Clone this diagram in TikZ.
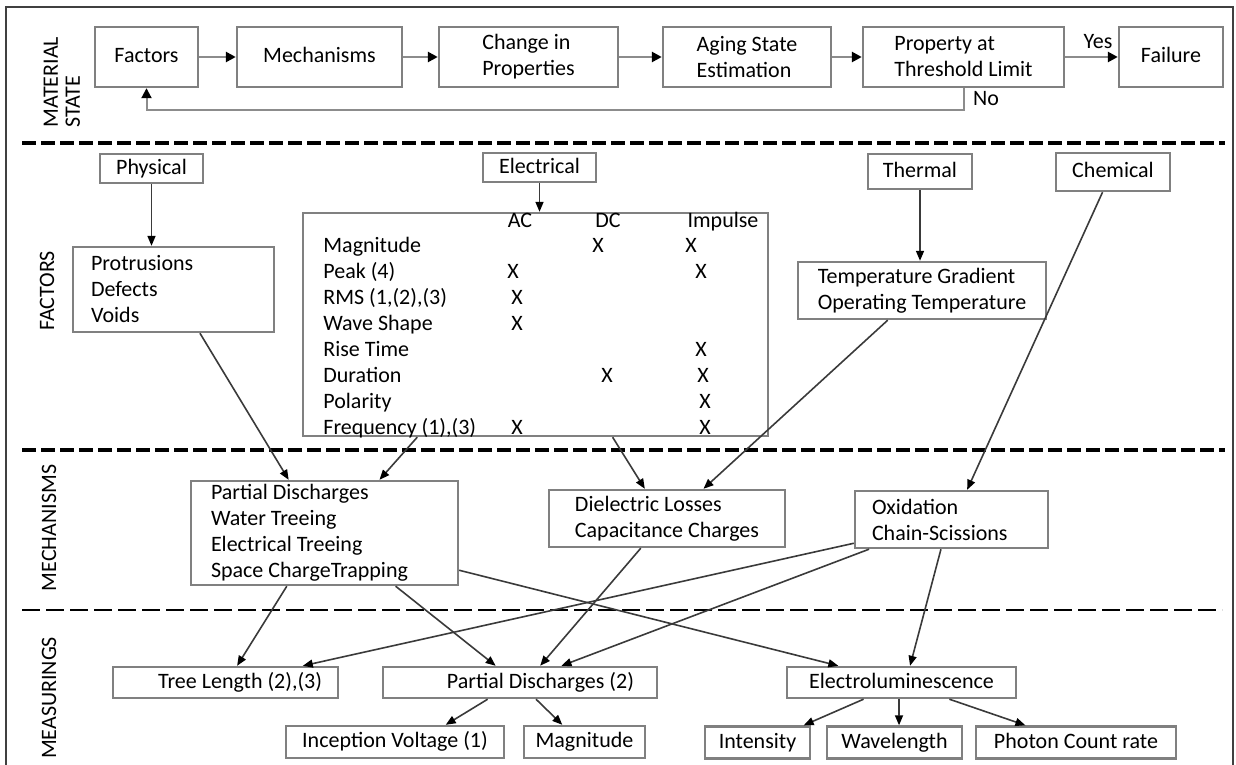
\documentclass[tikz,border=0pt]{standalone}
\usepackage{fontspec}
\setmainfont{Carlito}
\usepackage{tikz}
\usepackage{xcolor}
\usetikzlibrary{arrows.meta,calc,positioning}
\definecolor{BoxGray}{HTML}{808080}
\definecolor{FlowGray}{HTML}{8C8C8C}
\definecolor{LineGray}{HTML}{3A3A3A}
\tikzset{
  cbbox/.style={draw=BoxGray, line width=1.2pt, fill=white, align=flush left, inner sep=1pt, font=\fontsize{11}{13}\selectfont},
  cbone/.style={cbbox, text height=7.5pt, text depth=2pt},
  cbtext/.style={inner sep=0pt, text height=7.5pt, text depth=2pt, font=\fontsize{11}{13}\selectfont},
  cbsec/.style={rotate=90, inner sep=0pt, align=left, font=\fontsize{11}{11}\selectfont},
  cbflow/.style={-{Triangle[length=5pt,width=5pt,color=black]}, line width=1.4pt, draw=FlowGray},
  cbarrow/.style={-{Triangle[length=5pt,width=4pt,color=black]}, line width=0.8pt, draw=LineGray},
  cbdash/.style={line width=2pt, dash pattern=on 7pt off 2.5pt},
  cbthin/.style={line width=1.3pt, dash pattern=on 9pt off 3pt}
}

\begin{document}
\begin{tikzpicture}[x=0.5pt,y=-0.5pt]
  \useasboundingbox (0,0) rectangle (1236,765);
  \draw[line width=1pt, black!75] (6,765) -- (6,7) -- (1233,7) -- (1233,765);

  % material state
  \node[cbone, minimum width=51.5pt, minimum height=30pt] (facbox) at (146.5,57) {Factors};
  \node[cbone, minimum width=82.5pt, minimum height=30pt] (mechbox) at (319.5,57) {Mechanisms};
  \node[cbbox, minimum width=89.5pt, minimum height=30pt] (chgbox) at (528.5,57) {Change in\\Properties};
  \node[cbbox, minimum width=84pt, minimum height=30pt] (agebox) at (747,57) {Aging State\\Estimation};
  \node[cbbox, minimum width=100.5pt, minimum height=30pt] (probox) at (963.5,57) {Property at\\Threshold Limit};
  \node[cbone, minimum width=52pt, minimum height=30pt] (failbox) at (1171,57) {Failure};
  \foreach \a/\b in {facbox/mechbox,mechbox/chgbox,chgbox/agebox,agebox/probox,probox/failbox} {
    \draw[cbflow] (\a) -- (\b);
  }
  \draw[cbflow, line width=1pt] (probox.south) -- ++(0,22) -| (facbox.south);
  \node[cbtext] (yeslbl) at (1098,43) {Yes};
  \node[cbtext] (nolbl) at (986,100) {No};

  % section labels and separators
  \node[cbsec, anchor=west] (secmat) at (62,128) {MATERIAL\\STATE};
  \node[cbsec] (secfac) at (47,291) {FACTORS};
  \node[cbsec] (secmech) at (49,528) {MECHANISMS};
  \node[cbsec] (secmeas) at (49,698) {MEASURINGS};
  \draw[cbdash] (22,143) -- (1225,143);
  \draw[cbdash] (22,450) -- (1225,450);
  \draw[cbthin] (22,610) -- (1222,610);

  % factors
  \node[cbone, minimum width=51.5pt, minimum height=14.5pt] (physbox) at (151.5,168.5) {Physical};
  \node[cbone, minimum width=56.5pt, minimum height=14.5pt] (elecbox) at (539.5,167.5) {Electrical};
  \node[cbone, minimum width=52pt, minimum height=17.5pt] (thermbox) at (920,171.5) {Thermal};
  \node[cbone, minimum width=57pt, minimum height=19pt] (chembox) at (1113,172) {Chemical};
  \node[cbbox, text width=82.5pt, inner xsep=9pt, minimum height=42.5pt] (protbox) at (173.5,289.5) {Protrusions\\Defects\\Voids};
  \node[cbbox, minimum width=232.5pt, minimum height=111.5pt] (elecfac) at (535.5,324.5) {};
  \foreach \hd/\hx in {AC/520,DC/608,Impulse/723} {
    \node[cbtext] (hd\hd) at (\hx,222) {\hd};
  }
  \foreach \rl [count=\i] in {Magnitude,Peak (4),{RMS (1,(2),(3)},Wave Shape,Rise Time,Duration,Polarity,{Frequency (1),(3)}} {
    \node[cbtext, anchor=west] (row\i) at (323,{221+26*\i}) {\rl};
  }
  \foreach \mx/\mr in {598/1,691/1,513/2,701/2,517/3,517/4,701/5,607/6,703/6,705/7,517/8,705/8} {
    \node[cbtext] (mk\mr\mx) at (\mx,{221+26*\mr}) {X};
  }
  \node[cbbox, minimum width=124pt, minimum height=28.5pt] (tempbox) at (922,290.5) {Temperature Gradient\\Operating Temperature};
  \draw[cbarrow] (physbox.south) -- (physbox.south |- protbox.north);
  \draw[cbarrow] (elecbox.south) -- (elecbox.south |- elecfac.north);
  \draw[cbarrow] (thermbox.south) -- (thermbox.south |- tempbox.north);

  % mechanisms
  \node[cbbox, text width=113.5pt, inner xsep=10pt, minimum height=52pt] (m1box) at (324.5,533) {Partial Discharges\\Water Treeing\\Electrical Treeing\\Space ChargeTrapping};
  \node[cbbox, minimum width=118pt, minimum height=28.5pt] (dielbox) at (667,518.5) {Dielectric Losses\\Capacitance Charges};
  \node[cbbox, text width=79.5pt, inner xsep=8.5pt, minimum height=28.5pt] (oxbox) at (951.5,519.5) {Oxidation\\Chain-Scissions};

  % measurings
  \node[cbone, align=flush right, text width=96.5pt, inner xsep=8pt, minimum height=15.5pt] (treebox) at (225.5,682.5) {Tree Length (2),(3)};
  \node[cbone, align=flush right, text width=114pt, inner xsep=11.5pt, minimum height=15.5pt] (pdbox) at (520,682.5) {Partial Discharges (2)};
  \node[cbone, minimum width=114.5pt, minimum height=15.5pt] (elbox) at (901.5,682.5) {Electroluminescence};
  \node[cbone, minimum width=109pt, minimum height=16pt] (incbox) at (395,742) {Inception Voltage (1)};
  \node[cbone, minimum width=60.5pt, minimum height=16pt] (magbox) at (584.5,742) {Magnitude};
  \node[cbone, minimum width=52.5pt, minimum height=16pt] (intbox) at (757.5,742.5) {Intensity};
  \node[cbone, minimum width=67.5pt, minimum height=16pt] (wavbox) at (894.5,742.5) {Wavelength};
  \node[cbone, minimum width=100pt, minimum height=16pt] (phobox) at (1076,742.5) {Photon Count rate};

  % links between levels
  \foreach \a/\fa/\b/\fb in {protbox/0.63/m1box/0.367,elecfac/0.247/m1box/0.704,elecfac/0.665/dielbox/0.407,
      tempbox/0.363/dielbox/0.653,chembox/0.41/oxbox/0.58,m1box/0.36/treebox/0.551,m1box/0.764/pdbox/0.412,
      dielbox/0.39/pdbox/0.573,oxbox/0.078/pdbox/0.65,oxbox/0.446/elbox/0.537,pdbox/0.383/incbox/0.73,
      pdbox/0.558/magbox/0.32,elbox/0.336/intbox/0.93,elbox/0.489/wavbox/0.533,elbox/0.707/phobox/0.25} {
    \draw[cbarrow] ($(\a.south west)!\fa!(\a.south east)$) -- ($(\b.north west)!\fb!(\b.north east)$);
  }
  \draw[cbarrow] ($(m1box.north east)!0.85!(m1box.south east)$) -- ($(elbox.north west)!0.227!(elbox.north east)$);
  \draw[cbarrow] ($(oxbox.north west)!0.9!(oxbox.south west)$) -- ($(treebox.north west)!0.84!(treebox.north east)$);
\end{tikzpicture}
\end{document}
